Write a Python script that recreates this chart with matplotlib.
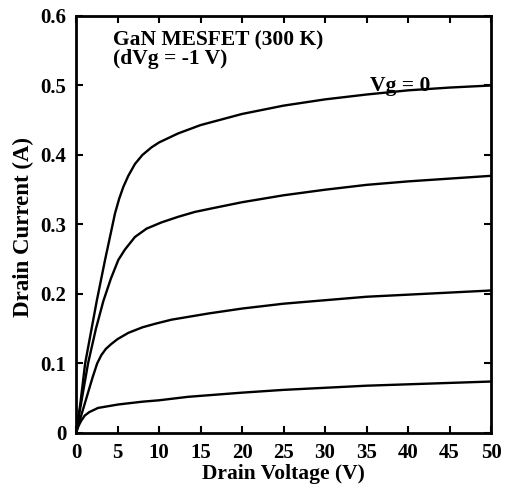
import matplotlib.pyplot as plt

plt.rcParams['font.family'] = ['Liberation Serif', 'DejaVu Serif']
plt.rcParams['font.weight'] = 'bold'

# Drain current vs drain voltage, one curve per gate voltage
vg0_v = [0, 0.5, 1.1, 2.5, 3.5, 4.7, 5.2, 5.7, 6.3, 7.1, 8, 9.1, 10, 12.3, 15, 17.5,
         20, 25, 30, 35, 40, 45, 50]
vg0_i = [0, 0.04, 0.1, 0.19, 0.249, 0.316, 0.337, 0.354, 0.370, 0.387, 0.400, 0.411,
         0.418, 0.431, 0.443, 0.451, 0.459, 0.471, 0.480, 0.487, 0.493, 0.497, 0.500]

vg1_v = [0, 0.5, 1.45, 2.4, 3.3, 4.2, 5.1, 5.9, 7.1, 8.5, 10.3, 12.3, 14.3, 16.3, 20,
         25, 30, 35, 40, 45, 50]
vg1_i = [0, 0.035, 0.1, 0.15, 0.19, 0.222, 0.249, 0.264, 0.282, 0.294, 0.303, 0.311,
         0.318, 0.323, 0.332, 0.342, 0.350, 0.357, 0.362, 0.366, 0.370]

vg2_v = [0, 0.5, 1, 1.5, 2, 2.55, 3.05, 3.6, 4.25, 5, 6.3, 8, 9.5, 11.5, 13.5, 16, 20,
         25, 30, 35, 40, 45, 50]
vg2_i = [0, 0.02, 0.04, 0.06, 0.08, 0.1, 0.112, 0.121, 0.128, 0.135, 0.144, 0.152,
         0.157, 0.163, 0.167, 0.172, 0.179, 0.186, 0.191, 0.196, 0.199, 0.202, 0.205]

vg3_v = [0, 0.3, 0.6, 1.05, 1.6, 2.65, 5.1, 8, 10, 13.5, 20, 25, 30, 35, 40, 45, 50]
vg3_i = [0, 0.01, 0.017, 0.025, 0.030, 0.036, 0.041, 0.045, 0.047, 0.052, 0.058,
         0.062, 0.065, 0.068, 0.070, 0.072, 0.074]

fig = plt.figure(figsize=(5.05, 4.92), dpi=100)
ax = fig.add_axes([0.1505, 0.12, 0.8218, 0.8475])

for v, i in [(vg0_v, vg0_i), (vg1_v, vg1_i), (vg2_v, vg2_i), (vg3_v, vg3_i)]:
    ax.plot(v, i, color='black', lw=1.7)

ax.set_xlim(0, 50)
ax.set_ylim(0, 0.6)
ax.set_xticks(range(0, 51, 5))
ax.set_yticks([0, 0.1, 0.2, 0.3, 0.4, 0.5, 0.6])
ax.set_yticklabels(['0', '0.1', '0.2', '0.3', '0.4', '0.5', '0.6'])
ax.tick_params(direction='in', top=True, right=True, length=5, width=1.5,
               labelsize=15, pad=7)
for s in ax.spines.values():
    s.set_linewidth(2)

ax.set_xlabel('Drain Voltage (V)', fontsize=15.5, fontweight='bold')
ax.set_ylabel('Drain Current (A)', fontsize=16.5, fontweight='bold')
ax.xaxis.set_label_coords(0.5, -0.075)
ax.yaxis.set_label_coords(-0.10, 0.495)

ax.text(4.4, 0.558, 'GaN MESFET (300 K)', fontsize=15.5, fontweight='bold',
        va='baseline')
ax.text(4.4, 0.531, '(dVg = -1 V)', fontsize=15.5, fontweight='bold',
        va='baseline')
ax.text(35.4, 0.4925, 'Vg = 0', fontsize=15.5, fontweight='bold', va='baseline')

fig.savefig('out.png', dpi=100)
